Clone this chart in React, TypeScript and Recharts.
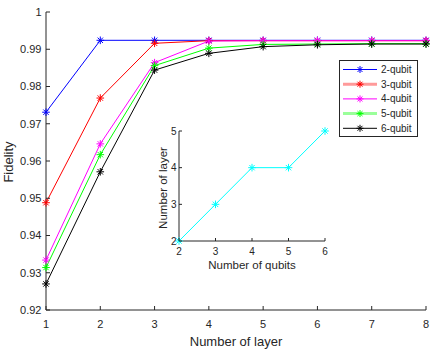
import React from 'react';
import { LineChart, Line, XAxis, YAxis, Legend } from 'recharts';

const layers = [1, 2, 3, 4, 5, 6, 7, 8];
const fid2 = [0.9731, 0.9924, 0.9924, 0.9924, 0.9924, 0.9924, 0.9924, 0.9924];
const fid3 = [0.9488, 0.9769, 0.9916, 0.9923, 0.9923, 0.9923, 0.9923, 0.9923];
const fid4 = [0.9334, 0.9646, 0.9864, 0.9922, 0.9923, 0.9923, 0.9923, 0.9923];
const fid5 = [0.9314, 0.9617, 0.9856, 0.9903, 0.9913, 0.9914, 0.9915, 0.9915];
const fid6 = [0.927, 0.9571, 0.9844, 0.9889, 0.9907, 0.9912, 0.9914, 0.9914];
const fidTicks = [0.92, 0.93, 0.94, 0.95, 0.96, 0.97, 0.98, 0.99, 1];

const qubits = [2, 3, 4, 5, 6];
const minLayers = [2, 3, 4, 4, 5];
const insetXTicks = [2, 3, 4, 5, 6];
const insetYTicks = [2, 3, 4, 5];

const seriesNames = ['2-qubit', '3-qubit', '4-qubit', '5-qubit', '6-qubit'];
const seriesKeys = ['q2', 'q3', 'q4', 'q5', 'q6'];
const seriesColors = ['#0000ff', '#ff0000', '#ff00ff', '#00ff00', '#000000'];
const legendLineColors = ['#0000ff', '#ff9a9a', '#ff00ff', '#9aff9a', '#000000'];
const legendLineWidths = [1, 3, 1, 3, 1];

const mainData = layers.map((l, i) => ({
  layer: l,
  q2: fid2[i],
  q3: fid3[i],
  q4: fid4[i],
  q5: fid5[i],
  q6: fid6[i],
}));
const insetData = qubits.map((q, i) => ({ q, n: minLayers[i] }));

const FONT = '"Liberation Sans", Arial, Helvetica, sans-serif';
const AX = '#262626';

const starPath = (cx: number, cy: number, r: number) => {
  const d = r * 0.7071;
  return `M${cx - r},${cy}L${cx + r},${cy}M${cx},${cy - r}L${cx},${cy + r}M${cx - d},${cy - d}L${cx + d},${cy + d}M${cx - d},${cy + d}L${cx + d},${cy - d}`;
};

const makeStar = (color: string, r: number) => (props: any) => {
  const { cx, cy, index } = props;
  if (cx == null || cy == null) return <g key={`s-${index}`} />;
  return <path key={`s-${index}`} d={starPath(cx, cy, r)} stroke={color} strokeWidth={1} fill="none" />;
};

const fmtFid = (v: number) => (v === 1 ? '1' : v.toFixed(2));

const BottomTick = (len: number, dy: number, fs: number) => (props: any) => {
  const { x, y, payload } = props;
  return (
    <g>
      <line x1={x} y1={y} x2={x} y2={y - len} stroke={AX} strokeWidth={1} />
      <text x={x} y={y + dy} dy="0.35em" textAnchor="middle" fontSize={fs} fontFamily={FONT} fill={AX}>
        {payload.value}
      </text>
    </g>
  );
};

const LeftTick = (len: number, dx: number, fs: number, fmt: (v: number) => string) => (props: any) => {
  const { x, y, payload } = props;
  return (
    <g>
      <line x1={x} y1={y} x2={x + len} y2={y} stroke={AX} strokeWidth={1} />
      <text x={x - dx} y={y} dy="0.35em" textAnchor="end" fontSize={fs} fontFamily={FONT} fill={AX}>
        {fmt(payload.value)}
      </text>
    </g>
  );
};

const TopTick = (len: number) => (props: any) => {
  const { x, y } = props;
  return <line x1={x} y1={y} x2={x} y2={y + len} stroke={AX} strokeWidth={1} />;
};

const RightTick = (len: number) => (props: any) => {
  const { x, y } = props;
  return <line x1={x} y1={y} x2={x - len} y2={y} stroke={AX} strokeWidth={1} />;
};

const LegendBox = () => (
  <svg width={79} height={77} style={{ display: 'block' }}>
    <rect x={0.5} y={0.5} width={78} height={76} fill="#ffffff" stroke={AX} strokeWidth={1} />
    {seriesNames.map((name, i) => {
      const cy = 9.5 + i * 14.7;
      return (
        <g key={name}>
          <line x1={4} y1={cy} x2={38} y2={cy} stroke={legendLineColors[i]} strokeWidth={legendLineWidths[i]} />
          <path d={starPath(21, cy, 3.5)} stroke={seriesColors[i]} strokeWidth={1} fill="none" />
          <text x={42} y={cy} dy="0.35em" fontSize={10} fontFamily={FONT} fill={AX}>
            {name}
          </text>
        </g>
      );
    })}
  </svg>
);

export default function App() {
  return (
    <div style={{ position: 'absolute', left: 0, top: 0, width: 436, height: 350, background: '#ffffff' }}>
      <LineChart width={436} height={350} data={mainData} margin={{ top: 12, right: 10, bottom: 0, left: 0 }}>
        <XAxis
          xAxisId="b"
          dataKey="layer"
          type="number"
          domain={[1, 8]}
          ticks={layers}
          height={40}
          tickSize={0}
          tickMargin={0}
          tickLine={false}
          axisLine={{ stroke: AX, strokeWidth: 1 }}
          tick={BottomTick(4, 14, 11)}
          interval={0}
          label={{
            content: (p: any) => {
              const vb = p.viewBox || { x: 46, y: 310, width: 380 };
              return (
                <text x={vb.x + vb.width / 2} y={vb.y + 31} dy="0.35em" textAnchor="middle" fontSize={13} fontFamily={FONT} fill={AX}>
                  Number of layer
                </text>
              );
            },
          }}
        />
        <XAxis
          xAxisId="t"
          orientation="top"
          dataKey="layer"
          type="number"
          domain={[1, 8]}
          ticks={layers}
          height={0}
          tickSize={0}
          tickMargin={0}
          tickLine={false}
          axisLine={{ stroke: AX, strokeWidth: 1 }}
          tick={TopTick(4)}
          interval={0}
        />
        <YAxis
          yAxisId="l"
          type="number"
          domain={[0.92, 1]}
          ticks={fidTicks}
          width={46}
          tickSize={0}
          tickMargin={0}
          tickLine={false}
          axisLine={{ stroke: AX, strokeWidth: 1 }}
          tick={LeftTick(4, 4.5, 11, fmtFid)}
          interval={0}
          allowDataOverflow
          label={{
            content: (p: any) => {
              const vb = p.viewBox || { x: 0, y: 12, height: 298 };
              const cx = 8;
              const cy = vb.y + vb.height / 2 + 1;
              return (
                <text x={cx} y={cy} dy="0.35em" textAnchor="middle" fontSize={13} fontFamily={FONT} fill={AX} transform={`rotate(-90 ${cx} ${cy})`}>
                  Fidelity
                </text>
              );
            },
          }}
        />
        <YAxis
          yAxisId="r"
          orientation="right"
          type="number"
          domain={[0.92, 1]}
          ticks={fidTicks}
          width={0}
          tickSize={0}
          tickMargin={0}
          tickLine={false}
          axisLine={{ stroke: AX, strokeWidth: 1 }}
          tick={RightTick(4)}
          interval={0}
          allowDataOverflow
        />
        {seriesKeys.map((k, i) => (
          <Line
            key={k}
            xAxisId="b"
            yAxisId="l"
            type="linear"
            dataKey={k}
            name={seriesNames[i]}
            stroke={seriesColors[i]}
            strokeWidth={1}
            dot={makeStar(seriesColors[i], 3.8)}
            activeDot={false}
            isAnimationActive={false}
          />
        ))}
        <Legend
          layout="vertical"
          align="center"
          verticalAlign="middle"
          content={() => <LegendBox />}
          wrapperStyle={{ position: 'absolute', left: 339, top: 60, width: 79, height: 77 }}
        />
      </LineChart>

      <div style={{ position: 'absolute', left: 150, top: 125, width: 185, height: 150 }}>
        <LineChart width={185} height={150} data={insetData} margin={{ top: 6, right: 10, bottom: 0, left: 0 }}>
          <XAxis
            xAxisId="b"
            dataKey="q"
            type="number"
            domain={[2, 6]}
            ticks={insetXTicks}
            height={34}
            tickSize={0}
            tickMargin={0}
            tickLine={false}
            axisLine={{ stroke: AX, strokeWidth: 1 }}
            tick={BottomTick(3, 10, 10)}
            interval={0}
            label={{
              content: (p: any) => {
                const vb = p.viewBox || { x: 29, y: 116, width: 146 };
                return (
                  <text x={vb.x + vb.width / 2} y={vb.y + 24} dy="0.35em" textAnchor="middle" fontSize={11.5} fontFamily={FONT} fill={AX}>
                    Number of qubits
                  </text>
                );
              },
            }}
          />
          <XAxis
            xAxisId="t"
            orientation="top"
            dataKey="q"
            type="number"
            domain={[2, 6]}
            ticks={insetXTicks}
            height={0}
            tickSize={0}
            tickMargin={0}
            tickLine={false}
            axisLine={{ stroke: AX, strokeWidth: 1 }}
            tick={TopTick(3)}
            interval={0}
          />
          <YAxis
            yAxisId="l"
            type="number"
            domain={[2, 5]}
            ticks={insetYTicks}
            width={29}
            tickSize={0}
            tickMargin={0}
            tickLine={false}
            axisLine={{ stroke: AX, strokeWidth: 1 }}
            tick={LeftTick(3, 2.5, 10, (v: number) => String(v))}
            interval={0}
            label={{
              content: (p: any) => {
                const vb = p.viewBox || { x: 0, y: 6, height: 110 };
                const cx = 12.7;
                const cy = vb.y + vb.height / 2 + 2;
                return (
                  <text x={cx} y={cy} dy="0.35em" textAnchor="middle" fontSize={11.5} fontFamily={FONT} fill={AX} transform={`rotate(-90 ${cx} ${cy})`}>
                    Number of layer
                  </text>
                );
              },
            }}
          />
          <YAxis
            yAxisId="r"
            orientation="right"
            type="number"
            domain={[2, 5]}
            ticks={insetYTicks}
            width={0}
            tickSize={0}
            tickMargin={0}
            tickLine={false}
            axisLine={{ stroke: AX, strokeWidth: 1 }}
            tick={RightTick(3)}
            interval={0}
          />
          <Line
            xAxisId="b"
            yAxisId="l"
            type="linear"
            dataKey="n"
            stroke="#00ffff"
            strokeWidth={1}
            dot={makeStar('#00ffff', 3.8)}
            activeDot={false}
            isAnimationActive={false}
          />
        </LineChart>
      </div>
    </div>
  );
}
